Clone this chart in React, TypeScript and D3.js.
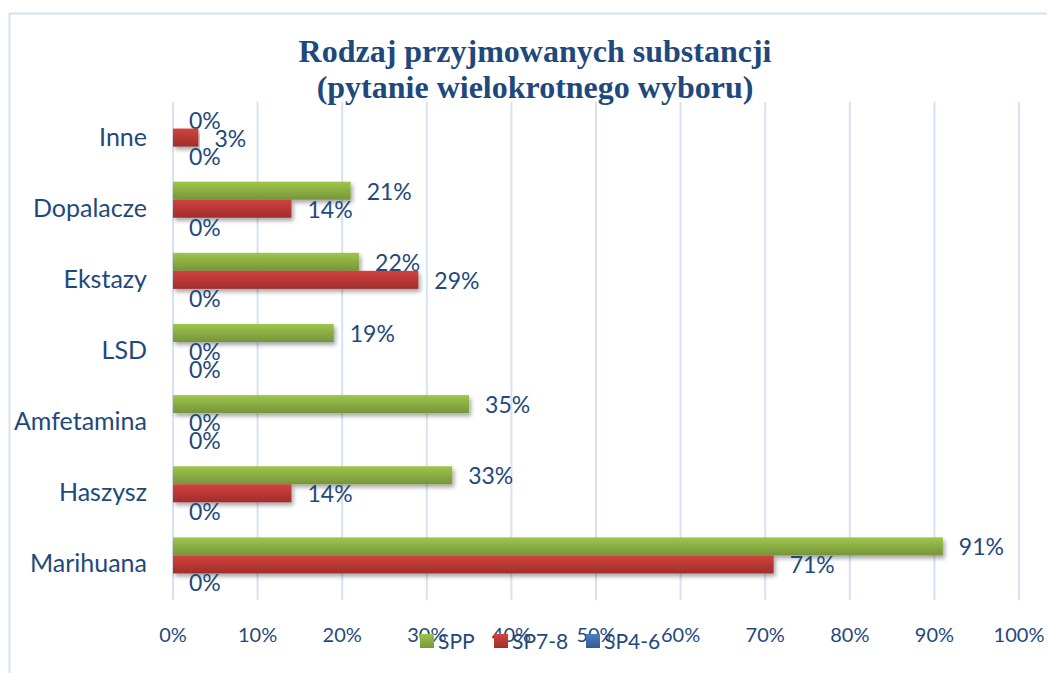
import React from "react";
import * as d3 from "d3";

const categories = ["Inne", "Dopalacze", "Ekstazy", "LSD", "Amfetamina", "Haszysz", "Marihuana"];
const seriesNames = ["SPP", "SP7-8", "SP4-6"];
const sppValues = [0, 21, 22, 19, 35, 33, 91];
const sp78Values = [3, 14, 29, 0, 0, 14, 71];
const sp46Values = [0, 0, 0, 0, 0, 0, 0];
const xTicks = [0, 10, 20, 30, 40, 50, 60, 70, 80, 90, 100];

const W = 1049;
const H = 673;
const TEXT = "#1F497D";
const FONT = "Lato, 'Open Sans', sans-serif";

export default function App() {
  const left = 173, right = 1019, top = 102, bottom = 600;
  const x = d3.scaleLinear().domain([0, 100]).range([left, right]);
  const y = d3.scaleBand().domain(categories).range([top, bottom]).paddingInner(0.24).paddingOuter(0.12);
  const sub = d3.scaleBand().domain(seriesNames).range([0, y.bandwidth()]);
  const series = [
    { name: "SPP", values: sppValues, grad: "gGreen" },
    { name: "SP7-8", values: sp78Values, grad: "gRed" },
    { name: "SP4-6", values: sp46Values, grad: "gBlue" },
  ];
  const legendX = [420, 494, 586];

  return (
    <svg width={W} height={H} style={{ display: "block", position: "absolute", left: 0, top: 0 }}>
      <defs>
        <linearGradient id="gGreen" x1="0" y1="0" x2="0" y2="1">
          <stop offset="0" stopColor="#9EC64B" />
          <stop offset="1" stopColor="#76953A" />
        </linearGradient>
        <linearGradient id="gRed" x1="0" y1="0" x2="0" y2="1">
          <stop offset="0" stopColor="#D2423E" />
          <stop offset="1" stopColor="#A02D2B" />
        </linearGradient>
        <linearGradient id="gBlue" x1="0" y1="0" x2="0" y2="1">
          <stop offset="0" stopColor="#4A7EC4" />
          <stop offset="1" stopColor="#2E5C9A" />
        </linearGradient>
        <filter id="shadow" x="-5%" y="-30%" width="110%" height="180%">
          <feDropShadow dx="2" dy="3" stdDeviation="2" floodColor="#000" floodOpacity="0.35" />
        </filter>
      </defs>
      <rect x={0} y={0} width={W} height={H} fill="#fff" />
      <path d={`M9.5,${H} V13.5 H1047`} fill="none" stroke="#D5E2F2" strokeWidth={2} />
      <text x={535} y={62} textAnchor="middle" fontFamily="'Liberation Serif', 'Times New Roman', serif" fontWeight="bold" fontSize={32} fill={TEXT}>
        Rodzaj przyjmowanych substancji
      </text>
      <text x={535} y={98} textAnchor="middle" fontFamily="'Liberation Serif', 'Times New Roman', serif" fontWeight="bold" fontSize={32} fill={TEXT}>
        (pytanie wielokrotnego wyboru)
      </text>
      {xTicks.map((t) => (
        <line key={"g" + t} x1={x(t)} x2={x(t)} y1={top} y2={bottom} stroke="#D6E2F1" strokeWidth={2} />
      ))}
      {xTicks.map((t) => (
        <text key={"t" + t} x={x(t)} y={642} textAnchor="middle" fontFamily={FONT} fontSize={20} fill={TEXT}>
          {t}%
        </text>
      ))}
      {categories.map((c) => (
        <text key={"c" + c} x={147} y={(y(c) as number) + y.bandwidth() / 2 + 8} textAnchor="end" fontFamily={FONT} fontSize={25} fill={TEXT}>
          {c}
        </text>
      ))}
      {series.map((s) =>
        categories.map((c, i) => {
          const by = (y(c) as number) + (sub(s.name) as number);
          const v = s.values[i];
          return (
            <g key={s.name + c}>
              {v > 0 && (
                <rect x={x(0)} y={by} width={x(v) - x(0)} height={sub.bandwidth()} fill={`url(#${s.grad})`} filter="url(#shadow)" />
              )}
              <text x={x(v) + 16} y={by + sub.bandwidth() / 2 + 9} fontFamily={FONT} fontSize={23} fill={TEXT}>
                {v}%
              </text>
            </g>
          );
        })
      )}
      {series.map((s, i) => (
        <g key={"l" + s.name}>
          <rect x={legendX[i]} y={634} width={14} height={14} fill={`url(#${s.grad})`} />
          <text x={legendX[i] + 18} y={649} fontFamily={FONT} fontSize={21} fill={TEXT}>
            {s.name}
          </text>
        </g>
      ))}
    </svg>
  );
}
